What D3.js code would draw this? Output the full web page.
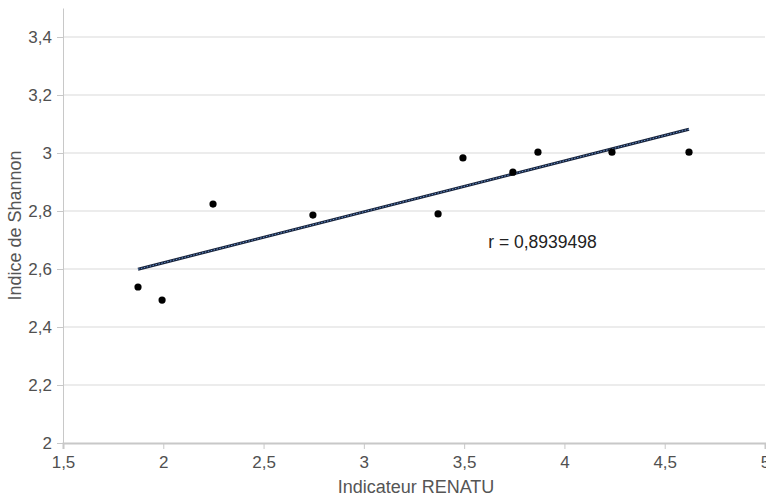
<!DOCTYPE html>
<html>
<head>
<meta charset="utf-8">
<script src="https://cdn.jsdelivr.net/npm/d3@7"></script>
<style>
  body { margin: 0; background: #fff; }
  svg text { font-family: "Liberation Sans", Arial, Helvetica, sans-serif; }
</style>
</head>
<body>
<svg id="chart" width="766" height="496"></svg>
<script>
// values
const renatu  = [1.874, 1.994, 2.248, 2.746, 3.370, 3.494, 3.743, 3.868, 4.237, 4.621];
const shannon = [2.538, 2.493, 2.824, 2.786, 2.790, 2.983, 2.934, 3.003, 3.003, 3.003];
const xTicks = [1.5, 2, 2.5, 3, 3.5, 4, 4.5, 5];
const yTicks = [2, 2.2, 2.4, 2.6, 2.8, 3, 3.2, 3.4];
const rLabel = "r = 0,8939498";

const margin = {top: 8, right: 1, bottom: 53, left: 63};
const width = 766, height = 496;

const svg = d3.select("#chart");

const x = d3.scaleLinear().domain([1.5, 5]).range([margin.left, width - margin.right]);
const y = d3.scaleLinear().domain([2, 3.5]).range([height - margin.bottom, margin.top]);

const fmt = d => String(d).replace(".", ",");

// horizontal gridlines
svg.append("g")
    .selectAll("line")
    .data(yTicks.filter(d => d > 2))
    .enter()
    .append("line")
    .attr("x1", x(1.5))
    .attr("x2", x(5))
    .attr("y1", d => y(d))
    .attr("y2", d => y(d))
    .attr("stroke", "#d9d9d9")
    .attr("stroke-width", 1);

// x axis
const xAxis = svg.append("g")
    .attr("transform", `translate(0,${y(2)})`)
    .call(d3.axisBottom(x).tickValues(xTicks).tickFormat(fmt).tickSize(6).tickPadding(7));
xAxis.select(".domain").attr("stroke", "#c8c8c8").attr("stroke-width", 2);
xAxis.selectAll(".tick line").attr("stroke", "#c8c8c8");
xAxis.selectAll(".tick text").attr("fill", "#505050").attr("font-size", 17);

// y axis
const yAxis = svg.append("g")
    .attr("transform", `translate(${x(1.5)},0)`)
    .call(d3.axisLeft(y).tickValues(yTicks).tickFormat(fmt).tickSize(6).tickPadding(5).tickSizeOuter(0));
yAxis.select(".domain").attr("stroke", "#c8c8c8");
yAxis.selectAll(".tick line").attr("stroke", "#c8c8c8");
yAxis.selectAll(".tick text").attr("fill", "#505050").attr("font-size", 17);

// linear trend line (least squares)
const mx = d3.mean(renatu), my = d3.mean(shannon);
const slope = d3.sum(renatu, (v, i) => (v - mx) * (shannon[i] - my)) / d3.sum(renatu, v => (v - mx) ** 2);
const icpt = my - slope * mx;
const xExt = d3.extent(renatu);
const trend = xExt.map(v => [v, icpt + slope * v]);
const line = d3.line().x(d => x(d[0])).y(d => y(d[1]));

svg.append("path")
    .datum(trend)
    .attr("d", line)
    .attr("stroke", "#16223a")
    .attr("stroke-width", 3)
    .attr("fill", "none");
svg.append("path")
    .datum(trend)
    .attr("d", line)
    .attr("stroke", "#6a94d0")
    .attr("stroke-width", 1)
    .attr("stroke-dasharray", "1.5,1.5")
    .attr("fill", "none");

// points
svg.append("g")
    .selectAll("circle")
    .data(renatu.map((v, i) => [v, shannon[i]]))
    .enter()
    .append("circle")
    .attr("cx", d => x(d[0]))
    .attr("cy", d => y(d[1]))
    .attr("r", 3.6)
    .attr("fill", "#000");

// correlation label
svg.append("text")
    .attr("x", x(3.62))
    .attr("y", y(2.672))
    .attr("font-size", 17.5)
    .attr("fill", "#222")
    .text(rLabel);

// axis titles
svg.append("text")
    .attr("x", (x(1.5) + x(5)) / 2 + 2)
    .attr("y", 493)
    .attr("text-anchor", "middle")
    .attr("font-size", 18)
    .attr("fill", "#555")
    .text("Indicateur RENATU");

svg.append("text")
    .attr("transform", `translate(21,${(y(2) + y(3.5)) / 2}) rotate(-90)`)
    .attr("text-anchor", "middle")
    .attr("font-size", 18)
    .attr("fill", "#555")
    .text("Indice de Shannon");
</script>
</body>
</html>
